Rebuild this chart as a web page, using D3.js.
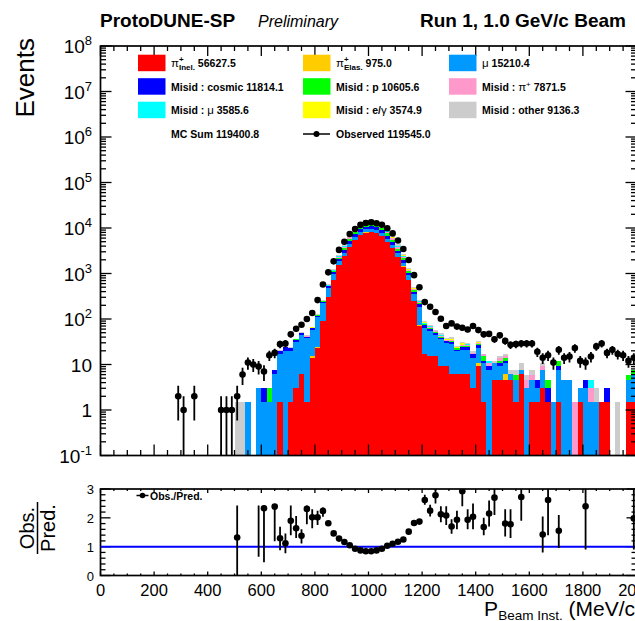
<!DOCTYPE html>
<html>
<head>
<meta charset="utf-8">
<script src="https://cdn.jsdelivr.net/npm/d3@7"></script>
<style>
  body { margin: 0; background: #fff; }
  svg text { font-family: "Liberation Sans", Arial, Helvetica, sans-serif; }
</style>
</head>
<body>
<svg id="chart" width="635" height="621"></svg>
<script>
// ---- data (MeV/c bins of 20, MC from 500, observed from 280) ----
var mcFirstEdge = 500;
var binWidth = 20;

var piInel = [0,0,0,0,0,0,0,0,1.5,0, 1.5,3.0,6.1,1.5,13.7,22.8,90,300,720,1500,
  2400,3850,5400,7000,7950,8200,7600,6600,4950,3600, 2300,1420,720,250,70,17,15,15,9.1,9.1,
  6.1,6.1,6.1,6.1,3.0,9.1,1.5,0,4.6,4.6, 4.6,4.6,1.5,6.1,0,1.5,1.5,3.0,1.5,0,
  1.5,0,0,0,1.5,0,0,0,1.5,1.5, 0,0,0,1.5,1.5];
var piElas = [0,0,0,0,0,0,0,0,0,0, 0,0,0,0,1.5,1.5,1.5,4,8,18,
  32,55,80,105,120,125,115,100,75,55, 35,22,10,4,3,0,0,0,0,0,
  0,0,0,0,0,1.5,0,0,0,0, 1.5,0,0,0,0,0,0,0,0,0,
  0,0,0,0,0,0,0,0,0,0, 0,0,0,0,0];
var mu = [0,0,1.5,0,3.0,1.5,1.5,6.1,15.2,19.8, 18.2,28,38,36.5,42.5,86,134,180,240,330,
  440,620,850,1080,1230,1270,1170,1030,800,600, 420,300,180,100,115,46,40,30,27,20,
  22,13.7,15.2,15.2,10.6,12.2,9.1,7.6,6.1,4.6, 4.6,1.5,3.0,1.5,3.0,3.0,1.5,4.6,0,1.5,
  6.1,4.6,4.6,0,1.5,3.0,1.5,1.5,0,0, 0,0,0,3.0,4.6];
var cosmic = [0,0,0,0,0,1.5,0,1.5,3,4.5, 3,3,4.5,3,4.5,7.6,12,35,90,220,
  400,680,980,1280,1460,1500,1390,1200,900,650, 400,240,110,45,25,9,6,4.5,3,3,
  3,1.5,3,3,3,4.5,1.5,1.5,0,1.5, 1.5,0,0,0,0,0,1.5,0,1.5,0,
  1.5,0,0,0,0,1.5,0,0,0,1.5, 0,0,0,0,0];
var proton = [0,0,0,0,0,0,1.5,0,0,0, 0,1.5,1.5,0,1.5,3,6,15,60,170,
  330,600,900,1220,1400,1450,1330,1150,860,600, 370,210,90,30,15,4.5,3,3,1.5,1.5,
  1.5,1.5,1.5,1.5,0,1.5,3,0,0,1.5, 1.5,0,1.5,0,0,0,0,0,1.5,0,
  3.0,0,0,0,0,0,0,0,0,0, 0,0,0,1.5,1.5];
var piMisid = [0,0,0,0,0,0,0,0,0,0, 0,0,0,1.5,0,1.5,3,10,40,120,
  240,450,680,910,1040,1080,990,860,650,460, 290,170,65,25,10,3,3,1.5,1.5,1.5,
  1.5,0,1.5,1.5,1.5,1.5,1.5,1.5,0,1.5, 1.5,0,0,0,1.5,1.5,0,1.5,0,0,
  0,0,0,1.5,0,0,1.5,0,0,0, 0,0,0,0,0];
var muMisid = [0,0,0,0,0,0,0,0,0,0, 0,0,0,0,0,0,1.5,4,15,50,
  110,200,300,400,460,475,440,380,290,200, 130,75,30,10,5,1.5,1.5,0,1.5,0,
  0,0,0,1.5,0,0,0,1.5,0,0, 0,0,0,0,0,0,0,0,0,0,
  0,0,0,0,0,0,1.5,0,0,0, 0,0,0,0,0];
var eGamma = [0,0,0,0,0,0,0,0,0,0, 0,0,0,0,1.5,1.5,1.5,5,20,55,
  110,200,300,400,460,475,440,380,290,210, 130,80,30,12,6,3,1.5,1.5,1.5,1.5,
  3,1.5,3,0,0,1.5,0,0,0,0, 0,0,0,0,0,0,0,0,0,0,
  0,0,0,0,0,0,0,0,0,0, 0,0,0,0,0];
var other = [1.5,1.5,0,0,0,0,0,0,1.5,1.5, 1.5,1.5,3,3,3,4.5,7.5,32,77,117,
  238,395,710,1055,1230,1255,1125,1000,745,525, 325,183,65,29,18,6,4.5,3,3,1.5,
  3,1.5,1.5,1.5,1.5,1.5,0,0,1.5,1.5, 1.5,1.5,1.5,3.0,1.5,1.5,0,1.5,0,0,
  0,0,0,0,0,0,0,1.5,0,0, 0,1.5,0,0,0];

var obsFirstCenter = 290;
var observed = [2,1,0,2,0,0,0,0,1,1, 1,2,6,11,10,9,7,16,18,28,
  29,46,61,75,100,135,260,575,1060,1850, 3300,5000,7400,9500,11700,12900,13300,12700,11800,9850,
  7600,5300,3450,1980,920,500,235,186,142,101, 70,80,68,64,59,70,57,46,47,36,
  44,33,27,28,29,29,29,19,14,16, 11,21,14,15,23,12,11,15,25,29,
  18,21,17,16,12,14];

var ratioCenters = [510,590,610,650,670,690,710,730,750,770, 790,810,830,850,870,890,910,930,950,970,
  990,1010,1030,1050,1070,1090,1110,1130,1150,1170, 1190,1210,1230,1250,1270,1290,1310,1330,1350,1370,
  1390,1430,1450,1470,1510,1530,1570,1650,1670,1710, 1810,1990];
var ratioValues = [1.32,null,2.33,2.39,1.29,1.12,1.90,1.64,1.38,2.31, 2.02,2.02,2.24,1.81,1.46,1.28,1.16,1.05,0.93,0.87,
  0.84,0.84,0.87,0.93,1.03,1.10,1.17,1.25,1.52,1.82, 1.87,2.62,2.25,2.78,2.12,2.08,1.70,1.93,2.92,1.93,
  2.04,1.68,2.15,2.70,1.80,1.78,2.72,1.42,2.62,1.55, 2.40,1.98];
var ratioLow = [0,0.65,0.46,1.19,0.88,0.77,1.40,1.30,1.11,1.78, 1.64,1.75,2.04,1.76,1.43,1.26,1.15,1.04,0.93,0.87,
  0.84,0.84,0.87,0.93,1.02,1.09,1.15,1.23,1.48,1.75, 1.78,2.45,2.05,2.50,1.85,1.75,1.45,1.60,2.40,1.60,
  1.60,1.40,1.70,2.10,1.35,1.30,1.90,0.80,1.40,0.95, 0.90,0.90];
var ratioHigh = [2.43,2.43,2.43,2.43,1.69,1.46,2.43,2.06,1.60,2.43, 2.30,2.25,2.36,1.86,1.49,1.30,1.17,1.06,0.93,0.87,
  0.84,0.84,0.87,0.93,1.04,1.11,1.19,1.27,1.56,1.89, 1.96,2.80,2.45,3.06,2.40,2.40,1.95,2.25,3.4,2.30,
  2.50,2.00,2.60,3.3,2.30,2.30,3.5,2.05,3.8,2.10, 3.9,3.1];

var legendTotals = ['56627.5','975.0','15210.4','11814.1','10605.6','7871.5','3585.6','3574.9','9136.3'];
var mcSumTotal = '119400.8';
var observedTotal = '119545.0';

var xTickLabels = [0,200,400,600,800,1000,1200,1400,1600,1800,2000];
var yDecades = [-1,0,1,2,3,4,5,6,7,8];
var ratioTickLabels = [0,1,2,3];

// ---- style ----
var colors = ['#ff0000','#ffcc00','#0099ff','#0000ff','#00ff00','#ff99cc','#00ffff','#ffff00','#cccccc'];

var svg = d3.select('#chart');
var frame = {l: 100.5, r: 636.5, t: 46, b: 455.5};
var rframe = {t: 489, b: 575.5};

var x = d3.scaleLinear().domain([0, 2000]).range([frame.l, frame.r]);
var y = d3.scaleLog().domain([0.1, 1e8]).range([frame.b, frame.t]);
var yr = d3.scaleLinear().domain([0, 3]).range([rframe.b, rframe.t]);

var defs = svg.append('defs');
defs.append('clipPath').attr('id', 'clipMain').append('rect')
  .attr('x', frame.l).attr('y', frame.t)
  .attr('width', frame.r - frame.l).attr('height', frame.b - frame.t);
defs.append('clipPath').attr('id', 'clipRatio').append('rect')
  .attr('x', frame.l).attr('y', rframe.t)
  .attr('width', frame.r - frame.l).attr('height', rframe.b - rframe.t);

// stacked MC
var components = [piInel, piElas, mu, cosmic, proton, piMisid, muMisid, eGamma, other];
var bars = [];
for (var i = 0; i < piInel.length; i++) {
  var lo = 0;
  components.forEach(function(c, k){
    var v = c[i];
    if (v > 0) bars.push({edge: mcFirstEdge + i * binWidth, lo: lo, hi: lo + v, k: k});
    lo += v;
  });
}

var gMain = svg.append('g').attr('clip-path', 'url(#clipMain)');
gMain.selectAll('rect')
  .data(bars)
  .enter()
    .append('rect')
    .attr('x', function(d){ return x(d.edge); })
    .attr('width', function(d){ return x(d.edge + binWidth) - x(d.edge); })
    .attr('y', function(d){ return y(d.hi); })
    .attr('height', function(d){ return (d.lo > 0 ? y(d.lo) : frame.b) - y(d.hi); })
    .attr('fill', function(d){ return colors[d.k]; })
    .attr('shape-rendering', 'crispEdges');

// observed points
var obsPts = observed.map(function(v, i){ return {c: obsFirstCenter + i * binWidth, v: v}; })
  .filter(function(d){ return d.v > 0; });

gMain.selectAll('line.err')
  .data(obsPts)
  .enter()
    .append('line')
    .attr('class', 'err')
    .attr('x1', function(d){ return x(d.c); })
    .attr('x2', function(d){ return x(d.c); })
    .attr('y1', function(d){ var l = d.v - Math.sqrt(d.v); return l > 0 ? y(l) : frame.b; })
    .attr('y2', function(d){ return y(d.v + Math.sqrt(d.v)); })
    .attr('stroke', '#000').attr('stroke-width', 1.8);
gMain.selectAll('circle')
  .data(obsPts)
  .enter()
    .append('circle')
    .attr('cx', function(d){ return x(d.c); })
    .attr('cy', function(d){ return y(d.v); })
    .attr('r', 3.3)
    .attr('fill', '#000');

// ---- frames and ticks ----
var axes = svg.append('g').attr('stroke', '#000').attr('fill', 'none');

function xTicks(yEdge, dir, major, minor){
  axes.append('g').selectAll('line')
    .data(d3.range(0, 2001, 50))
    .enter()
      .append('line')
      .attr('x1', function(d){ return x(d); })
      .attr('x2', function(d){ return x(d); })
      .attr('y1', yEdge)
      .attr('y2', function(d){ return yEdge + dir * (d % 200 === 0 ? major : minor); })
      .attr('stroke-width', 1.3);
}

var logTicks = [];
yDecades.forEach(function(d){
  for (var k = 1; k < 10; k++) {
    var v = k * Math.pow(10, d);
    if (v <= 1.0001e8) logTicks.push({v: v, major: k === 1});
  }
});
function yLogTicks(xEdge, dir){
  axes.append('g').selectAll('line')
    .data(logTicks)
    .enter()
      .append('line')
      .attr('x1', xEdge)
      .attr('x2', function(d){ return xEdge + dir * (d.major ? 11 : 5.5); })
      .attr('y1', function(d){ return y(d.v); })
      .attr('y2', function(d){ return y(d.v); })
      .attr('stroke-width', 1.3);
}

var ratioTicks = d3.range(0, 3.001, 0.2).map(function(v){
  return {v: v, major: Math.abs(v - Math.round(v)) < 1e-6};
});
function yRatioTicks(xEdge, dir){
  axes.append('g').selectAll('line')
    .data(ratioTicks)
    .enter()
      .append('line')
      .attr('x1', xEdge)
      .attr('x2', function(d){ return xEdge + dir * (d.major ? 10 : 5); })
      .attr('y1', function(d){ return yr(d.v); })
      .attr('y2', function(d){ return yr(d.v); })
      .attr('stroke-width', 1.3);
}

xTicks(frame.b, -1, 11, 5.5);
xTicks(frame.t, 1, 10, 5);
yLogTicks(frame.l, 1);
yLogTicks(frame.r, -1);
xTicks(rframe.b, -1, 4, 2);
xTicks(rframe.t, 1, 4, 2);
yRatioTicks(frame.l, 1);
yRatioTicks(frame.r, -1);

axes.append('rect')
  .attr('x', frame.l).attr('y', frame.t)
  .attr('width', frame.r - frame.l).attr('height', frame.b - frame.t)
  .attr('stroke-width', 1.7);

// ---- ratio panel ----
var gRatio = svg.append('g').attr('clip-path', 'url(#clipRatio)');
gRatio.append('line')
  .attr('x1', frame.l).attr('x2', frame.r)
  .attr('y1', yr(1)).attr('y2', yr(1))
  .attr('stroke', '#0000ff').attr('stroke-width', 2);

var ratioPts = ratioCenters.map(function(c, i){
  return {c: c, v: ratioValues[i], lo: ratioLow[i], hi: ratioHigh[i]};
});
gRatio.selectAll('line.err')
  .data(ratioPts)
  .enter()
    .append('line')
    .attr('class', 'err')
    .attr('x1', function(d){ return x(d.c); })
    .attr('x2', function(d){ return x(d.c); })
    .attr('y1', function(d){ return yr(d.lo); })
    .attr('y2', function(d){ return yr(d.hi); })
    .attr('stroke', '#000').attr('stroke-width', 1.8);
gRatio.selectAll('circle')
  .data(ratioPts.filter(function(d){ return d.v !== null; }))
  .enter()
    .append('circle')
    .attr('cx', function(d){ return x(d.c); })
    .attr('cy', function(d){ return yr(d.v); })
    .attr('r', 3.3)
    .attr('fill', '#000');

axes.append('rect')
  .attr('x', frame.l).attr('y', rframe.t)
  .attr('width', frame.r - frame.l).attr('height', rframe.b - rframe.t)
  .attr('stroke-width', 1.7);

// ratio legend
svg.append('line').attr('x1', 136.5).attr('x2', 148.5).attr('y1', 495.5).attr('y2', 495.5)
  .attr('stroke', '#000').attr('stroke-width', 1.5);
svg.append('circle').attr('cx', 142.5).attr('cy', 495.5).attr('r', 2.8).attr('fill', '#000');
svg.append('text').attr('x', 150).attr('y', 499.5)
  .attr('font-size', 10.5).attr('font-weight', 'bold').text('Obs./Pred.');

// ---- tick labels ----
var labels = svg.append('g').attr('fill', '#000');

yDecades.forEach(function(d){
  var t = labels.append('text')
    .attr('x', 92).attr('y', y(Math.pow(10, d)) + 7)
    .attr('text-anchor', 'end').attr('font-size', 19);
  if (d === 0) t.text('1');
  else if (d === 1) t.text('10');
  else {
    t.append('tspan').text('10');
    t.append('tspan').attr('dy', -8).attr('font-size', 13).text(String(d));
  }
});

labels.selectAll('text.xl')
  .data(xTickLabels)
  .enter()
    .append('text')
    .attr('class', 'xl')
    .attr('x', function(d){ return x(d); })
    .attr('y', 596)
    .attr('text-anchor', 'middle')
    .attr('font-size', 16.5)
    .text(function(d){ return d; });

labels.selectAll('text.rl')
  .data(ratioTickLabels)
  .enter()
    .append('text')
    .attr('class', 'rl')
    .attr('x', 94)
    .attr('y', function(d){ return yr(d) + 5; })
    .attr('text-anchor', 'end')
    .attr('font-size', 13)
    .text(function(d){ return d; });

// ---- titles ----
svg.append('text').attr('x', 100).attr('y', 27)
  .attr('font-size', 19).attr('font-weight', 'bold').text('ProtoDUNE-SP');
svg.append('text').attr('x', 258).attr('y', 27)
  .attr('font-size', 16).attr('font-style', 'italic').text('Preliminary');
svg.append('text').attr('x', 420).attr('y', 27)
  .attr('font-size', 19).attr('font-weight', 'bold').text('Run 1, 1.0 GeV/c Beam');

svg.append('text')
  .attr('transform', 'translate(34,38) rotate(-90)')
  .attr('text-anchor', 'end').attr('font-size', 26).text('Events');

var ratioTitle = svg.append('g').attr('transform', 'translate(0,528) rotate(-90)');
ratioTitle.append('text').attr('x', 0).attr('y', 34)
  .attr('text-anchor', 'middle').attr('font-size', 20).text('Obs.');
ratioTitle.append('line').attr('x1', -26).attr('x2', 26).attr('y1', 37.5).attr('y2', 37.5)
  .attr('stroke', '#000').attr('stroke-width', 1.5);
ratioTitle.append('text').attr('x', 0).attr('y', 54.5)
  .attr('text-anchor', 'middle').attr('font-size', 20).text('Pred.');

var xTitle = svg.append('text').attr('x', 642).attr('y', 616)
  .attr('text-anchor', 'end').attr('font-size', 21);
xTitle.append('tspan').text('P');
xTitle.append('tspan').attr('dy', 4).attr('font-size', 13.5).text('Beam Inst.');
xTitle.append('tspan').attr('dy', -4).text(' (MeV/c)');

// ---- legend ----
var legend = svg.append('g');
var colX = [138, 303, 449];
var textX = [171, 336, 482];
var rowY = [63, 86.5, 110, 134];

// parts: [text, kind] kind: b bold, s symbol (normal), sup, sub
var legendParts = [
  [['π','s'],['+','sup'],['Inel.','sub'],[' ' + legendTotals[0],'b']],
  [['π','s'],['+','sup'],['Elas.','sub'],[' ' + legendTotals[1],'b']],
  [['μ','s'],[' ' + legendTotals[2],'b']],
  [['Misid : cosmic ' + legendTotals[3],'b']],
  [['Misid : p ' + legendTotals[4],'b']],
  [['Misid : ','b'],['π','s'],['+','sup1'],[' ' + legendTotals[5],'b']],
  [['Misid : ','b'],['μ','s'],[' ' + legendTotals[6],'b']],
  [['Misid : e/','b'],['γ','s'],[' ' + legendTotals[7],'b']],
  [['Misid : other ' + legendTotals[8],'b']]
];

legendParts.forEach(function(parts, k){
  var col = k % 3, row = Math.floor(k / 3);
  legend.append('rect')
    .attr('x', colX[col]).attr('y', rowY[row] - 8.3)
    .attr('width', 27.5).attr('height', 16.5)
    .attr('fill', colors[k]);
  var t = legend.append('text')
    .attr('x', textX[col]).attr('y', rowY[row] + 4)
    .attr('font-size', 10.5).attr('font-weight', 'bold');
  var supW = 0;
  parts.forEach(function(p){
    var s = t.append('tspan').text(p[0]);
    if (p[1] === 's') s.attr('font-weight', 'normal').attr('font-size', 11.5);
    if (p[1] === 'sup') {
      s.attr('font-size', 8).attr('dy', -5);
      supW = s.node().getComputedTextLength();
    }
    if (p[1] === 'sup1') {
      s.attr('font-size', 8).attr('dy', -4).attr('font-weight', 'normal');
      supW = -1;
    }
    if (p[1] === 'sub') s.attr('font-size', 8).attr('dy', 8).attr('dx', -supW);
    if (p[1] === 'b' && supW > 0) { s.attr('dy', -3); supW = 0; }
    if (p[1] === 'b' && supW === -1) { s.attr('dy', 4); supW = 0; }
  });
});

legend.append('text').attr('x', textX[0]).attr('y', rowY[3] + 4)
  .attr('font-size', 10.5).attr('font-weight', 'bold').text('MC Sum ' + mcSumTotal);
legend.append('line').attr('x1', 303).attr('x2', 330).attr('y1', rowY[3]).attr('y2', rowY[3])
  .attr('stroke', '#000').attr('stroke-width', 1.5);
legend.append('circle').attr('cx', 316.5).attr('cy', rowY[3]).attr('r', 3).attr('fill', '#000');
legend.append('text').attr('x', textX[1]).attr('y', rowY[3] + 4)
  .attr('font-size', 10.5).attr('font-weight', 'bold').text('Observed ' + observedTotal);
</script>
</body>
</html>
